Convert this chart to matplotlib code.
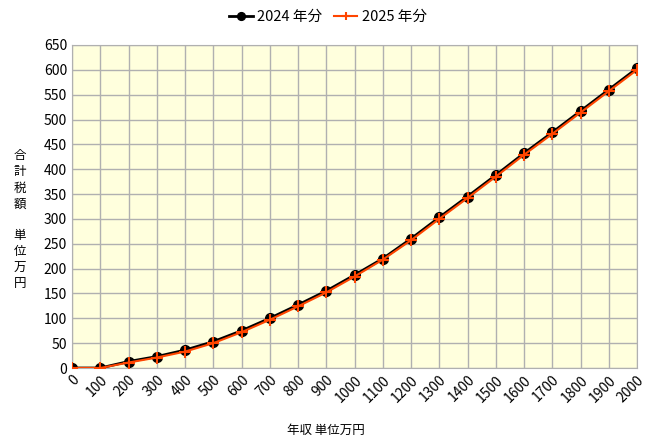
import matplotlib
matplotlib.use('Agg')
import matplotlib.pyplot as plt

plt.rcParams['font.family'] = ['Noto Sans CJK JP', 'DejaVu Sans']

incomes = list(range(0, 2001, 100))
tax_2024 = [0, 0, 13, 23, 36, 53, 75, 100, 127, 155, 187, 220, 260, 303, 345, 388, 432, 474, 517, 560, 603]
tax_2025 = [0, 0, 11, 21, 33, 50, 72, 97, 124, 152, 184, 218, 257, 300, 342, 385, 429, 471, 514, 557, 600]

fig = plt.figure(figsize=(6.52, 4.47), dpi=100)
ax = fig.add_axes([72/652, 1-368/447, 565/652, 323/447])
ax.set_facecolor('#ffffdd')

ax.plot(incomes, tax_2024, color='black', marker='o', markersize=7, lw=2, label='2024 年分', zorder=3)
ax.plot(incomes, tax_2025, color='#ff4500', marker='+', markersize=8, mew=1.5, lw=1.5, label='2025 年分', zorder=4)

ax.set_xlim(0, 2000)
ax.set_ylim(0, 650)
ax.set_xticks(incomes)
ax.set_xticklabels([str(v) for v in incomes], rotation=45, ha='right', rotation_mode='anchor', fontsize=10)
ax.set_yticks(range(0, 651, 50))
ax.tick_params(axis='y', labelsize=10, length=0)
ax.tick_params(axis='x', length=0)
ax.grid(True, color='#b0b0b0', lw=1)
for s in ax.spines.values():
    s.set_color('#b0b0b0')

fig.text(20/652, 1-220/447, '合\n計\n税\n額\n\n単\n位\n万\n円', ha='center', va='center', fontsize=9, linespacing=1.3)
fig.text(0.5, 1-430/447, '年収 単位万円', ha='center', va='center', fontsize=9)

fig.legend(*ax.get_legend_handles_labels(), loc='center', bbox_to_anchor=(328/652, 1-17/447), ncol=2,
           frameon=False, fontsize=10.5, handlelength=1.6, handletextpad=0.3, columnspacing=0.8,
           markerscale=0.8)

fig.savefig('out.png', dpi=100)
